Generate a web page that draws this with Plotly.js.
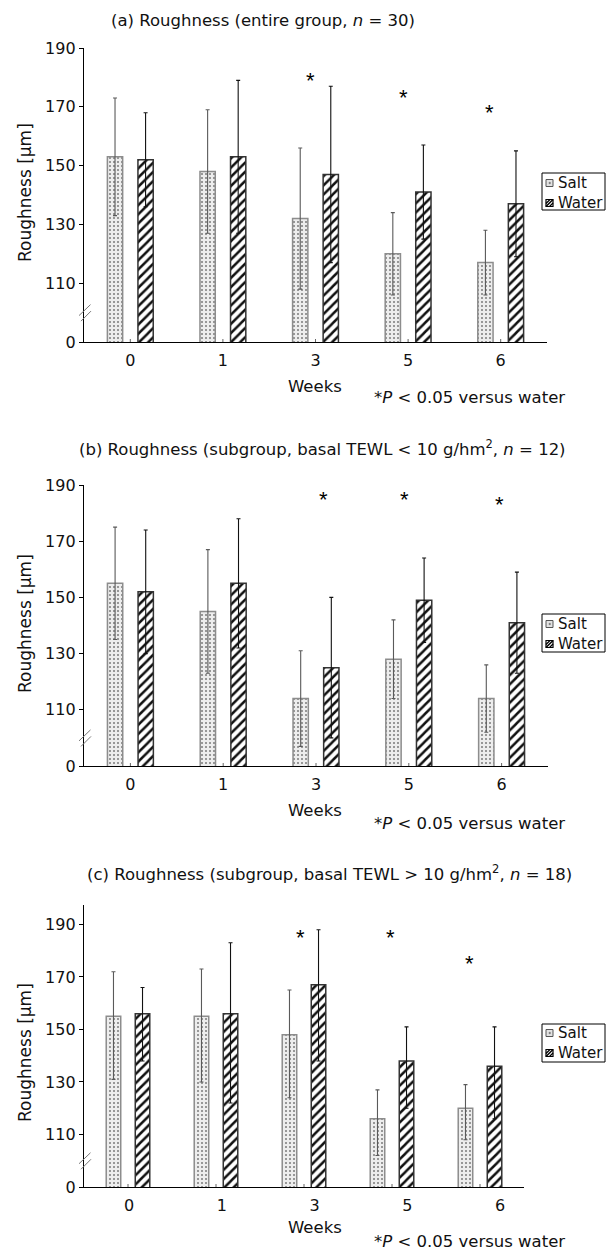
<!DOCTYPE html>
<html><head><meta charset="utf-8">
<script src="https://cdn.plot.ly/plotly-3.0.1.min.js"></script>
<style>html,body{margin:0;padding:0;background:#fff}</style>
</head><body><div id="chart" style="width:615px;height:1254px"></div>
<script>
// ---------- data ----------
const weeks = ['0', '1', '3', '5', '6'];
const seriesNames = ['Salt', 'Water'];

// (a) entire group, n = 30
const saltA = [153, 148, 132, 120, 117];
const saltErrA = [20, 21, 24, 14, 11];
const waterA = [152, 153, 147, 141, 137];
const waterErrA = [16, 26, 30, 16, 18];
const starWeeksA = ['3', '5', '6'];
const starLevelA = [179, 173, 168];

// (b) subgroup, basal TEWL < 10, n = 12
const saltB = [155, 145, 114, 128, 114];
const saltErrB = [20, 22, 17, 14, 12];
const waterB = [152, 155, 125, 149, 141];
const waterErrB = [22, 23, 25, 15, 18];
const starWeeksB = ['3', '5', '6'];
const starLevelB = [185, 185, 183];

// (c) subgroup, basal TEWL > 10, n = 18
const saltC = [155, 155, 148, 116, 120];
const saltErrUpC = [17, 18, 17, 11, 9];
const saltErrDownC = [24, 25, 24, 14, 12];
const waterC = [156, 156, 167, 138, 136];
const waterErrUpC = [10, 27, 21, 13, 15];
const waterErrDownC = [18, 34, 29, 18, 20];
const starWeeksC = ['3', '5', '6'];
const starLevelC = [185, 185, 175];

// broken axis: the value 90 sits at the axis origin and is labelled "0"
const yTickVals = [90, 110, 130, 150, 170, 190];
const yTickText = ['0', '110', '130', '150', '170', '190'];

// ---------- layout helpers ----------
const W = 615, H = 1254;
const px = x => x / W;
const py = y => 1 - y / H;
const FONT = 'DejaVu Sans, Liberation Sans, Arial, sans-serif';
const FS = 16.5, TICKFS = 16, LEGFS = 15;
const idx = weeks.map((w, i) => i);
const HALF = 0.165, BW = 0.165;

const saltMarker = {
  color: '#e9e9e9',
  pattern: {shape: '.', fgcolor: '#7a7a7a', bgcolor: '#ededed', size: 4, solidity: 0.2},
  line: {color: '#8d8d8d', width: 1.5}
};
const waterMarker = {
  color: '#ffffff',
  pattern: {shape: '/', fgcolor: '#111111', bgcolor: '#ffffff', size: 6.5, solidity: 0.38},
  line: {color: '#333333', width: 1.5}
};

function pair(salt, sUp, sDn, water, wUp, wDn, xa, ya) {
  return [
    {type: 'bar', name: seriesNames[0], x: idx, y: salt, xaxis: xa, yaxis: ya, showlegend: false,
     offset: -HALF - BW / 2, width: BW, marker: saltMarker,
     error_y: {type: 'data', symmetric: false, array: sUp, arrayminus: sDn,
               color: '#5a5a5a', thickness: 1.1, width: 2},
     hoverinfo: 'skip'},
    {type: 'bar', name: seriesNames[1], x: idx, y: water, xaxis: xa, yaxis: ya, showlegend: false,
     offset: HALF - BW / 2, width: BW, marker: waterMarker,
     error_y: {type: 'data', symmetric: false, array: wUp, arrayminus: wDn,
               color: '#111111', thickness: 1.1, width: 2},
     hoverinfo: 'skip'}
  ];
}

const data = [
  ...pair(saltA, saltErrA, saltErrA, waterA, waterErrA, waterErrA, 'x', 'y'),
  ...pair(saltB, saltErrB, saltErrB, waterB, waterErrB, waterErrB, 'x2', 'y2'),
  ...pair(saltC, saltErrUpC, saltErrDownC, waterC, waterErrUpC, waterErrDownC, 'x3', 'y3')
];

// panel geometry (pixels)
const panels = [
  {x: 'x', y: 'y', left: 84, right: 547, top: 48, bottom: 342, ymax: 190,
   title: '(a) Roughness (entire group, <i>n</i> = 30)', titleX: 263, titleY: 20,
   ytitleY: 193, weeksY: 386, noteY: 398, leg: [173, 183, 203, 210], labelScale: 1, labelShift: 0,
   starWeeks: starWeeksA, starLevel: starLevelA, starNudge: [-0.05, -0.045, -0.12]},
  {x: 'x2', y: 'y2', left: 84, right: 548, top: 485, bottom: 766, ymax: 190,
   title: '(b) Roughness (subgroup, basal TEWL &lt; 10 g/hm<sup>2</sup>, <i>n</i> = 12)', titleX: 323, titleY: 448,
   ytitleY: 624, weeksY: 811, noteY: 823, leg: [614, 624, 644, 652], labelScale: 1, labelShift: 0,
   starWeeks: starWeeksB, starLevel: starLevelB, starNudge: [0.08, -0.045, -0.02]},
  {x: 'x3', y: 'y3', left: 84, right: 524, top: 905, bottom: 1187, ymax: 197.4,
   title: '(c) Roughness (subgroup, basal TEWL &gt; 10 g/hm<sup>2</sup>, <i>n</i> = 18)', titleX: 329, titleY: 873,
   ytitleY: 1053, weeksY: 1227, noteY: 1241, leg: [1024, 1033, 1053, 1062], labelScale: 1.054, labelShift: 0.011,
   starWeeks: starWeeksC, starLevel: starLevelC, starNudge: [-0.045, -0.02, -0.125]}
];

const layout = {
  width: W, height: H,
  margin: {l: 0, r: 0, t: 0, b: 0},
  paper_bgcolor: '#ffffff', plot_bgcolor: 'rgba(0,0,0,0)',
  font: {family: FONT, size: FS, color: '#111111'},
  barmode: 'overlay',
  showlegend: false,
  shapes: [], annotations: []
};

function paperLine(x0, y0, x1, y1, color, width) {
  return {type: 'line', xref: 'paper', yref: 'paper', x0: px(x0), x1: px(x1), y0: py(y0), y1: py(y1),
          line: {color: color, width: width}};
}
function paperRect(x0, y0, x1, y1, fill, color, width) {
  return {type: 'rect', xref: 'paper', yref: 'paper', x0: px(x0), x1: px(x1), y0: py(y1), y1: py(y0),
          fillcolor: fill, line: {color: color, width: width}};
}

panels.forEach((p, k) => {
  const xk = k === 0 ? 'xaxis' : 'xaxis' + (k + 1);
  const yk = k === 0 ? 'yaxis' : 'yaxis' + (k + 1);
  layout[xk] = {
    domain: [px(p.left), px(p.right)], anchor: p.y, range: [-0.5, weeks.length - 0.5],
    tickvals: idx.map(i => i * p.labelScale + p.labelShift), ticktext: weeks,
    ticks: '', showline: true, linecolor: '#000', linewidth: 1.4, showgrid: false,
    zeroline: false, tickfont: {size: TICKFS, family: FONT, color: '#111'}, fixedrange: true,
    automargin: false, ticklabelstandoff: 3
  };
  layout[yk] = {
    domain: [py(p.bottom), py(p.top)], anchor: p.x, range: [90, p.ymax],
    tickvals: yTickVals, ticktext: yTickText, ticks: 'outside', ticklen: 4, tickwidth: 1,
    tickcolor: '#000', showline: true, linecolor: '#000', linewidth: 1.2, showgrid: false,
    zeroline: false, tickfont: {size: TICKFS, family: FONT, color: '#111'}, fixedrange: true,
    automargin: false
  };
  // tick marks between categories (outside) and small marks at category centres (inside)
  for (let i = 0; i <= weeks.length; i++) {
    layout.shapes.push({type: 'line', xref: p.x, yref: p.y, x0: i - 0.5, x1: i - 0.5,
      ysizemode: 'pixel', yanchor: 90, y0: 0, y1: -5, line: {color: '#000', width: 1}});
  }
  idx.forEach(i => layout.shapes.push({type: 'line', xref: p.x, yref: p.y, x0: i, x1: i,
    ysizemode: 'pixel', yanchor: 90, y0: 0, y1: 3, line: {color: '#666', width: 1}}));
  // axis break marks
  layout.shapes.push({type: 'line', xref: p.x + ' domain', yref: p.y, xsizemode: 'pixel', xanchor: 0,
    ysizemode: 'pixel', yanchor: 100, x0: -5, x1: 6.5, y0: -3, y1: 8, line: {color: '#777', width: 1}});
  layout.shapes.push({type: 'line', xref: p.x + ' domain', yref: p.y, xsizemode: 'pixel', xanchor: 0,
    ysizemode: 'pixel', yanchor: 100, x0: -3, x1: 7, y0: -8.5, y1: 1.5, line: {color: '#777', width: 1}});

  // compact legend box (drawn like the original)
  const [lt, ls, lw, lb] = p.leg;
  layout.shapes.push(paperRect(542, lt, 605, lb, '#ffffff', '#000', 1));
  layout.shapes.push(paperRect(546, ls - 3.5, 553, ls + 3.5, '#e2e2e2', '#555', 1));
  layout.shapes.push(paperRect(549, ls - 0.7, 550.4, ls + 0.7, '#777', '#777', 0.5));
  layout.shapes.push(paperRect(546, lw - 3.5, 553, lw + 3.5, '#ffffff', '#000', 1.2));
  layout.shapes.push(paperLine(546, lw + 3.5, 553, lw - 3.5, '#000', 1.4));
  layout.shapes.push(paperLine(546, lw + 0.5, 550, lw - 3.5, '#000', 1.2));
  layout.shapes.push(paperLine(549.5, lw + 3.5, 553, lw, '#000', 1.2));
  seriesNames.forEach((nm, j) => layout.annotations.push({xref: 'paper', yref: 'paper',
    x: px(555.5), y: py(j === 0 ? ls : lw), xanchor: 'left', yanchor: 'middle', showarrow: false,
    text: nm, font: {size: LEGFS}}));

  // texts
  layout.annotations.push({xref: 'paper', yref: 'paper', x: px(p.titleX), y: py(p.titleY),
    xanchor: 'center', yanchor: 'middle', showarrow: false, text: p.title, font: {size: FS}});
  layout.annotations.push({xref: 'paper', yref: 'paper', x: px(25), y: py(p.ytitleY),
    xanchor: 'center', yanchor: 'middle', showarrow: false, textangle: -90,
    text: 'Roughness [μm]', font: {size: 17}});
  layout.annotations.push({xref: 'paper', yref: 'paper', x: px(315), y: py(p.weeksY),
    xanchor: 'center', yanchor: 'middle', showarrow: false, text: 'Weeks', font: {size: FS}});
  layout.annotations.push({xref: 'paper', yref: 'paper', x: px(372), y: py(p.noteY),
    xanchor: 'left', yanchor: 'middle', showarrow: false,
    text: '*<i>P</i> &lt; 0.05 versus water', font: {size: FS}});
  p.starWeeks.forEach((w, j) => {
    layout.annotations.push({xref: p.x, yref: p.y, x: weeks.indexOf(w) + p.starNudge[j], y: p.starLevel[j],
      xanchor: 'center', yanchor: 'middle', showarrow: false, text: '*',
      font: {size: 22, family: 'Liberation Sans, Arial, sans-serif', color: '#000'}});
  });
});

Plotly.newPlot('chart', data, layout, {staticPlot: true, displayModeBar: false});
</script></body></html>
